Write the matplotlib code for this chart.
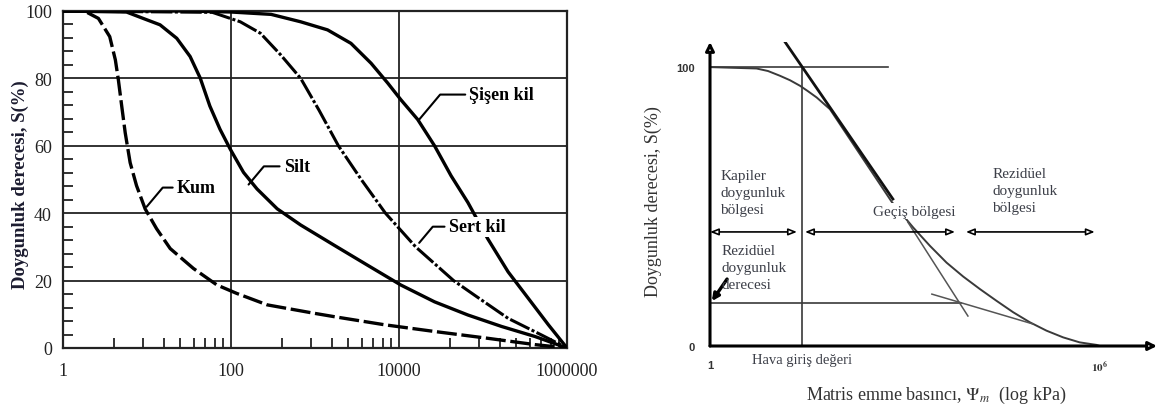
"""Doygunluk derecesi - matris emme basinci egrileri (two panels)."""

import matplotlib.pyplot as plt
import matplotlib.transforms as mtransforms
from matplotlib.ticker import FixedLocator, NullFormatter

plt.rcParams["font.family"] = ["Liberation Serif", "DejaVu Serif"]
plt.rcParams["mathtext.fontset"] = "stix"

# left panel: soil types (suction, saturation %)
kum_psi = [1, 1.8, 2.64, 3.6, 4.2, 4.56, 5.0, 5.5, 6.3, 7.5, 9.5, 13, 18.9, 35.7, 68, 117,
           270, 980, 1690, 6700, 26500, 105000, 417000, 1e6]
kum_s = [100, 100, 97.8, 92.4, 85.5, 79.6, 71.8, 63.9, 55, 48.2, 41.3, 35.4, 29.5, 23.6, 18.7, 16.2,
         12.8, 10.3, 9.3, 6.9, 4.9, 3, 1, 0]

silt_psi = [1, 5.7, 9, 14.3, 22.6, 32.6, 43, 56, 74, 98, 141, 204, 355, 675, 1690, 4200,
            10500, 26500, 66000, 166000, 417000, 1e6]
silt_s = [100, 99.7, 97.8, 95.9, 91.9, 86.5, 80.1, 71.8, 64.9, 59, 52.1, 47.2, 41.3, 36.5, 30.5, 24.6,
          18.7, 13.7, 9.8, 6.4, 3.4, 0]

sert_psi = [1, 60, 129, 224, 390, 676, 1120, 1900, 3550, 6900, 15800, 44700, 79000, 199000, 494000, 1e6]
sert_s = [100, 99.6, 96.8, 93.4, 87, 80, 70.5, 60, 50, 40, 30, 20, 15.7, 8.8, 3.9, 0]

sisen_psi = [1, 30, 100, 300, 675, 1410, 2680, 4650, 7350, 10500, 16700, 26500, 41700, 66000,
             114000, 199000, 347000, 600000, 1e6]
sisen_s = [100, 100, 99.7, 99, 96.8, 94.4, 90.4, 84.5, 78.6, 73.7, 67.8, 60, 51.1, 43.2,
           32.4, 22.6, 14.7, 6.9, 0]

x_ticks = [1, 100, 10000, 1000000]
x_tick_labels = ["1", "100", "10000", "1000000"]
y_ticks = [0, 20, 40, 60, 80, 100]

# label text, (psi, S) of text, (psi, S) on curve
curve_labels = [
    ("Kum", (22.7, 47.6), (9.9, 41.9)),
    ("Silt", (425, 53.9), (162, 48.5)),
    ("Sert kil", (39100, 36), (17400, 31.2)),
    ("Şişen kil", (69000, 75.2), (17400, 67.8)),
]

# right panel: schematic SWCC
swcc_psi = [1, 5.2, 7.8, 11.9, 17, 24.3, 32, 43.9, 70.2, 200, 630, 1340, 2430, 4370, 7890,
            14300, 25700, 46400, 83800, 151000, 272000, 490000, 890000, 1e6]
swcc_s = [100, 99.5, 98.6, 96.9, 95.3, 93.3, 91.4, 89.1, 84.9, 69, 51.6, 42.5, 35.9, 29.9, 24.9,
          20.4, 16.2, 12.1, 8.5, 5.5, 3.1, 1.3, 0.4, 0]

tangent_upper_psi = [14.3, 653]
tangent_upper_s = [109, 52.7]
tangent_lower_psi = [1110, 9330]
tangent_lower_s = [44.4, 10.75]
resid_tangent_psi = [2600, 93300]
resid_tangent_s = [18.6, 7.9]

air_entry = 26
residual_s = 15.4
residual_end = 7240
sat_end = 550
zone_s = 40.9
zone_bounds = [(1, 21.8), (29, 5900), (8700, 835000)]

fig = plt.figure(figsize=(11.62, 4.10), dpi=100)

# ---------- left panel ----------
ax1 = fig.add_axes([63 / 1162, 1 - 349 / 410, 504 / 1162, 337 / 410])
ax1.set_xscale("log")
ax1.set_xlim(1, 1e6)
ax1.set_ylim(0, 100)
ax1.set_xticks(x_ticks, labels=x_tick_labels)
ax1.set_yticks(y_ticks)
ax1.xaxis.set_minor_locator(FixedLocator([k ** 2 * 100 ** n for n in range(3) for k in range(2, 10)]))
ax1.xaxis.set_minor_formatter(NullFormatter())
ax1.yaxis.set_minor_locator(FixedLocator([v for v in range(4, 100, 4) if v % 20]))
ax1.tick_params(which="both", direction="in")
ax1.tick_params(which="major", length=0, labelsize=13, pad=8, colors="#222222")
ax1.tick_params(which="minor", length=7, width=1.3, color="#222222")
ax1.tick_params(axis="x", which="major", pad=10)
ax1.grid(True, which="major", color="#222222", lw=1.3)
for sp in ax1.spines.values():
    sp.set_linewidth(1.6)
    sp.set_color("#222222")

ax1.plot(kum_psi, kum_s, color="black", lw=2.4, dashes=(6, 1.4), zorder=3)
ax1.plot(silt_psi, silt_s, color="black", lw=2.4, zorder=3)
ax1.plot(sert_psi, sert_s, color="black", lw=2.2, dashes=(7, 0.8, 1, 0.8), zorder=3)
ax1.plot(sisen_psi, sisen_s, color="black", lw=2.4, zorder=3)

for name, txt_pos, curve_pos in curve_labels:
    ax1.annotate(
        name, xy=curve_pos, xytext=txt_pos, ha="left", va="center",
        fontsize=13, fontweight="bold", zorder=5,
        bbox=dict(fc="white", ec="none", pad=1),
        arrowprops=dict(arrowstyle="-", lw=1.5, color="black", relpos=(0, 0.5),
                        shrinkA=2, shrinkB=0,
                        connectionstyle="angle,angleA=0,angleB=50,rad=0"),
    )

ax1.text(-0.085, 0.487, "Doygunluk derecesi, S(%)", transform=ax1.transAxes,
         rotation=90, ha="center", va="center", fontsize=13.5,
         fontweight="bold", color="#1c1c30")

# ---------- right panel ----------
ax2 = fig.add_axes([710 / 1162, 1 - 347 / 410, 447 / 1162, 304 / 410])
ax2.set_xscale("log")
ax2.set_xlim(1, 10 ** 6.88)
ax2.set_ylim(0, 109)
for sp in ax2.spines.values():
    sp.set_visible(False)
ax2.set_xticks([1, 1e6], labels=["1", "$\\mathbf{10^6}$"])
ax2.set_yticks([0, 100], labels=["0", "100"])
ax2.xaxis.set_minor_locator(FixedLocator([]))
ax2.tick_params(length=0, labelsize=8, colors="#333333")
ax2.tick_params(axis="y", pad=11)
ax2.tick_params(axis="x", pad=10)
for lab in ax2.get_xticklabels() + ax2.get_yticklabels():
    lab.set_fontfamily(["Liberation Sans", "DejaVu Sans"])
    lab.set_fontweight("bold")

ink = "#3a3a3a"
ax2.plot([1, sat_end], [100, 100], color=ink, lw=1.2)
ax2.plot([air_entry, air_entry], [0, 100], color="#555555", lw=1.4)
ax2.plot([1, residual_end], [residual_s, residual_s], color=ink, lw=1.2)
ax2.plot(swcc_psi, swcc_s, color=ink, lw=1.4)
ax2.plot(tangent_upper_psi, tangent_upper_s, color="#111111", lw=2.0)
ax2.plot(tangent_lower_psi, tangent_lower_s, color="#555555", lw=1.1)
ax2.plot(resid_tangent_psi, resid_tangent_s, color="#555555", lw=1.1)

# axis arrows
axis_arrow = dict(arrowstyle="-|>,head_length=0.5,head_width=0.25", lw=2.2,
                  fc="white", ec="black", shrinkA=0, shrinkB=0)
ax2.annotate("", xy=(0, 1), xytext=(0, 0), xycoords="axes fraction", arrowprops=axis_arrow)
ax2.annotate("", xy=(1, 0), xytext=(0, 0), xycoords="axes fraction", arrowprops=axis_arrow)

# zone arrows
for a, b in zone_bounds:
    ax2.annotate("", xy=(b, zone_s), xytext=(a, zone_s),
                 arrowprops=dict(arrowstyle="<|-|>,head_length=0.5,head_width=0.2",
                                 lw=1.2, fc="white", ec="black", shrinkA=0, shrinkB=0))

# residual saturation pointer
ax2.annotate("", xy=(1.07, 16.1), xytext=(1.83, 24),
             arrowprops=dict(arrowstyle="-|>,head_length=0.4,head_width=0.2",
                             lw=2.4, fc="white", ec="black", shrinkA=0, shrinkB=0))

txt = dict(fontsize=11, color="#3c3f48", linespacing=1.4)
ax2.text(1.45, 55.2, "Kapiler\ndoygunluk\nbölgesi", ha="left", va="center", **txt)
ax2.text(1.5, 28, "Rezidüel\ndoygunluk\nderecesi", ha="left", va="center", **txt)
ax2.text(1400, 48.4, "Geçiş bölgesi", ha="center", va="center",
         bbox=dict(fc="white", ec="none", pad=1), zorder=5, **txt)
ax2.text(22000, 55.6, "Rezidüel\ndoygunluk\nbölgesi", ha="left", va="center", **txt)

blend = mtransforms.blended_transform_factory(ax2.transData, ax2.transAxes)
ax2.text(air_entry, -0.043, "Hava giriş değeri", transform=blend,
         ha="center", va="center", fontsize=10.5, color="#3c3f48")
ax2.text(0.506, -0.158, "Matris emme basıncı, $\\Psi_m$  (log kPa)",
         transform=ax2.transAxes, ha="center", va="center", fontsize=13, color="#333333")
ax2.text(-0.1275, 0.48, "Doygunluk derecesi, S(%)", transform=ax2.transAxes,
         rotation=90, ha="center", va="center", fontsize=13, color="#333333")

fig.savefig("out.png", dpi=100)
